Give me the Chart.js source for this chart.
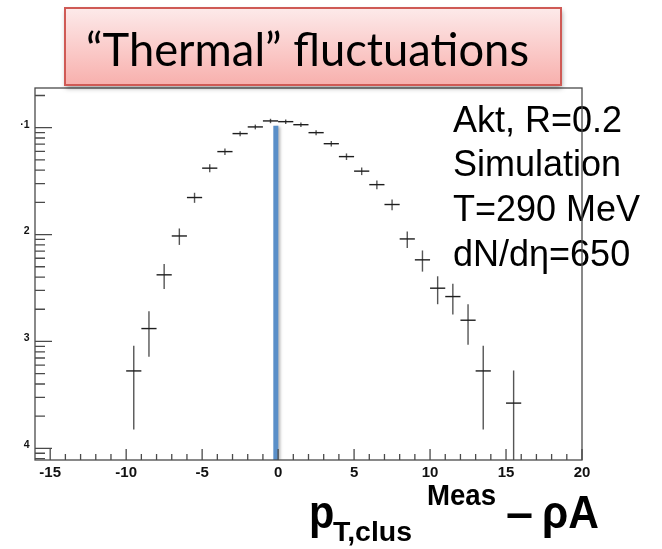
<!DOCTYPE html>
<html>
<head>
<meta charset="utf-8">
<title>Thermal fluctuations</title>
<script src="https://cdn.jsdelivr.net/npm/chart.js@4/dist/chart.umd.min.js"></script>
<style>
  html, body { margin: 0; padding: 0; background: #fff; }
  canvas { display: block; }
</style>
</head>
<body>
<canvas id="chart" width="662" height="549"></canvas>
<script>
// cluster pT - rho*A, anti-kt R=0.2, thermal toy model
var binCenters = [-9.5, -8.5, -7.5, -6.5, -5.5, -4.5, -3.5, -2.5, -1.5, -0.5,
                  0.5, 1.5, 2.5, 3.5, 4.5, 5.5, 6.5, 7.5, 8.5, 9.5,
                  10.5, 11.5, 12.5, 13.5, 15.5];
var binValues = [5.3e-4, 1.32e-3, 4.2e-3, 9.7e-3, 2.22e-2, 4.18e-2, 5.97e-2, 8.8e-2, 0.1016, 0.1156,
                 0.1138, 0.1066, 0.0898, 0.0708, 0.0536, 0.0392, 0.0293, 0.0191, 9.1e-3, 5.8e-3,
                 3.15e-3, 2.63e-3, 1.58e-3, 5.3e-4, 2.65e-4];
var binErrors = [3.8e-4, 6.0e-4, 1.1e-3, 1.7e-3, 2.4e-3, 3.6e-3, 4.2e-3, 4.8e-3, 5.2e-3, 5.5e-3,
                 5.5e-3, 5.3e-3, 4.9e-3, 4.3e-3, 3.8e-3, 3.2e-3, 2.8e-3, 2.2e-3, 1.6e-3, 1.3e-3,
                 9.2e-4, 8.4e-4, 6.5e-4, 3.8e-4, 2.7e-4];
var binHalfWidth = 0.5;

// marker line at zero
var markerX = -0.15;
var markerTop = 0.104;

var xTickValues = [-15, -10, -5, 0, 5, 10, 15, 20];
var xTickLabels = ['-15', '-10', '-5', '0', '5', '10', '15', '20'];
var yDecades = [1e-1, 1e-2, 1e-3, 1e-4];
var yTickLabels = ['·1', '2', '3', '4'];

var titleText = '“Thermal” fluctuations';
var infoLines = ['Akt, R=0.2', 'Simulation', 'T=290 MeV', 'dN/dη=650'];

var xMin = -16, xMax = 20;
var yMin = Math.pow(10, -4.109), yMax = Math.pow(10, -0.629);

var AXIS = '#4a4a4a';
var SANS = '"Liberation Sans", Arial, sans-serif';

function fitText(ctx, text, x, baseline, width, font) {
    ctx.font = font;
    var w = ctx.measureText(text).width;
    ctx.save();
    ctx.translate(x, baseline);
    ctx.scale(width / w, 1);
    ctx.textAlign = 'left';
    ctx.textBaseline = 'alphabetic';
    ctx.fillText(text, 0, 0);
    ctx.restore();
}

function squeezeText(ctx, text, x, baseline, sx, font) {
    ctx.font = font;
    ctx.save();
    ctx.translate(x, baseline);
    ctx.scale(sx, 1);
    ctx.textAlign = 'left';
    ctx.textBaseline = 'alphabetic';
    ctx.fillText(text, 0, 0);
    ctx.restore();
    return ctx.measureText(text).width * sx;
}

var rootStyle = {
    id: 'rootStyle',

    beforeDatasetDraw: function (chart, args) {
        if (args.index === 1) {
            var ctx = chart.ctx;
            ctx.save();
            ctx.shadowColor = 'rgba(0,0,0,0.28)';
            ctx.shadowBlur = 3;
            ctx.shadowOffsetX = 2;
            ctx.shadowOffsetY = 1;
        }
    },
    afterDatasetDraw: function (chart, args) {
        if (args.index === 1) {
            chart.ctx.restore();
        }
    },

    afterDatasetsDraw: function (chart) {
        var ctx = chart.ctx;
        var xs = chart.scales.x, ys = chart.scales.y;
        var a = chart.chartArea;

        // crosses: bin width horizontally, stat error vertically
        ctx.save();
        ctx.beginPath();
        ctx.rect(a.left, a.top, a.right - a.left, a.bottom - a.top);
        ctx.clip();
        ctx.lineWidth = 1.4;
        binCenters.forEach(function (c, i) {
            var v = binValues[i], e = binErrors[i];
            var px = xs.getPixelForValue(c);
            var py = ys.getPixelForValue(v);
            var yTop = ys.getPixelForValue(v + e);
            var yBot = v - e > 0 ? ys.getPixelForValue(v - e) : a.bottom + 2;
            ctx.strokeStyle = '#555';
            ctx.beginPath();
            ctx.moveTo(px, yTop);
            ctx.lineTo(px, yBot);
            ctx.stroke();
            ctx.strokeStyle = '#1e1e1e';
            ctx.beginPath();
            ctx.moveTo(xs.getPixelForValue(c - binHalfWidth), py);
            ctx.lineTo(xs.getPixelForValue(c + binHalfWidth), py);
            ctx.stroke();
        });
        ctx.restore();
    },

    afterDraw: function (chart) {
        var ctx = chart.ctx;
        var xs = chart.scales.x, ys = chart.scales.y;
        var a = chart.chartArea;

        // text box on the right
        ctx.save();
        ctx.fillStyle = '#000';
        infoLines.forEach(function (t, i) {
            ctx.font = '36px ' + SANS;
            ctx.textBaseline = 'alphabetic';
            ctx.textAlign = 'left';
            ctx.fillText(t, 453, 131.5 + i * 44.8);
        });
        ctx.restore();

        // frame
        ctx.save();
        ctx.strokeStyle = AXIS;
        ctx.lineWidth = 1.3;
        ctx.strokeRect(a.left, a.top, a.right - a.left, a.bottom - a.top);

        // x ticks point into the frame
        ctx.beginPath();
        for (var i = -15; i <= 20; i++) {
            var px = xs.getPixelForValue(i);
            var len = i % 5 === 0 ? 11 : 6;
            ctx.moveTo(px, a.bottom);
            ctx.lineTo(px, a.bottom - len);
        }
        // y ticks, log decades with 2..9 subdivisions
        for (var n = -5; n <= 0; n++) {
            for (var k = 1; k <= 9; k++) {
                var v = k * Math.pow(10, n);
                if (v < yMin || v > yMax) continue;
                var py = ys.getPixelForValue(v);
                var l = k === 1 ? 17 : 10;
                ctx.moveTo(a.left, py);
                ctx.lineTo(a.left + l, py);
            }
        }
        ctx.stroke();

        // tick labels
        ctx.fillStyle = '#111';
        ctx.font = 'bold 15px ' + SANS;
        ctx.textAlign = 'center';
        ctx.textBaseline = 'middle';
        xTickValues.forEach(function (v, i) {
            ctx.fillText(xTickLabels[i], xs.getPixelForValue(v), a.bottom + 12.5);
        });
        ctx.font = 'bold 10.5px ' + SANS;
        ctx.textAlign = 'right';
        yDecades.forEach(function (v, i) {
            ctx.fillText(yTickLabels[i], 29.5, ys.getPixelForValue(v) - 3);
        });
        ctx.restore();

        // axis title p_T,clus^Meas - rho A
        ctx.save();
        ctx.fillStyle = '#000';
        var sx = 0.9;
        squeezeText(ctx, 'p', 309, 528, sx, 'bold 46px ' + SANS);
        fitText(ctx, 'T,clus', 333, 541, 79, 'bold 28px ' + SANS);
        fitText(ctx, 'Meas', 427, 505, 69, 'bold 30px ' + SANS);
        fitText(ctx, '–', 506, 528, 27, 'bold 46px ' + SANS);
        fitText(ctx, 'ρA', 542, 528, 57, 'bold 46px ' + SANS);
        ctx.restore();

        // title box
        var bx = 65, by = 8, bw = 496, bh = 77;
        ctx.save();
        ctx.shadowColor = 'rgba(0,0,0,0.38)';
        ctx.shadowBlur = 5;
        ctx.shadowOffsetX = 1;
        ctx.shadowOffsetY = 3;
        var g = ctx.createLinearGradient(0, by, 0, by + bh);
        g.addColorStop(0, '#fdeaea');
        g.addColorStop(1, '#f8b0ad');
        ctx.fillStyle = g;
        ctx.fillRect(bx, by, bw, bh);
        ctx.restore();
        ctx.save();
        ctx.strokeStyle = '#cf5a55';
        ctx.lineWidth = 2;
        ctx.strokeRect(bx, by, bw, bh);
        ctx.fillStyle = '#000';
        fitText(ctx, titleText, 86, 66, 443, '46px Lato, "Open Sans", sans-serif');
        ctx.restore();
    }
};

var pointData = binCenters.map(function (c, i) {
    return { x: c, y: binValues[i] };
});

new Chart(document.getElementById('chart'), {
    type: 'scatter',
    data: {
        datasets: [{
            label: 'clusters',
            data: pointData,
            pointRadius: 0,
            showLine: false
        }, {
            type: 'line',
            label: 'zero',
            data: [{ x: markerX, y: markerTop }, { x: markerX, y: yMin }],
            borderColor: '#5a8fc8',
            borderWidth: 5,
            borderCapStyle: 'butt',
            pointRadius: 0,
            fill: false
        }]
    },
    options: {
        responsive: false,
        animation: false,
        layout: {
            padding: { left: 35, right: 80, top: 88, bottom: 89 }
        },
        plugins: {
            legend: { display: false },
            tooltip: { enabled: false },
            title: { display: false }
        },
        scales: {
            x: { type: 'linear', min: xMin, max: xMax, display: false },
            y: { type: 'logarithmic', min: yMin, max: yMax, display: false }
        }
    },
    plugins: [rootStyle]
});
</script>
</body>
</html>
